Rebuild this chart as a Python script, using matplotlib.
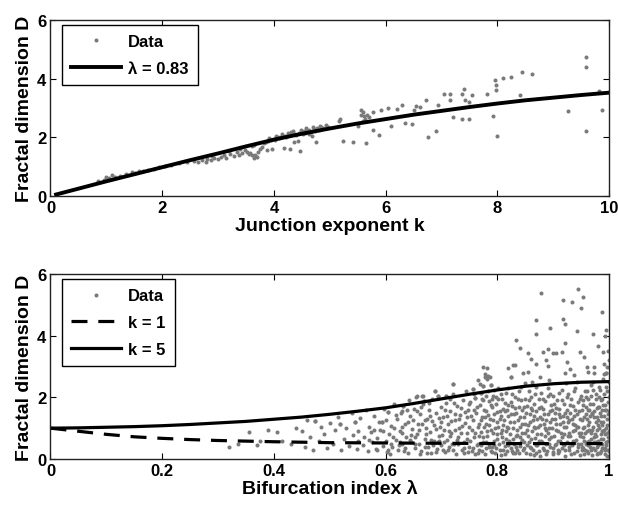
import numpy as np
import matplotlib
matplotlib.use("Agg")
import matplotlib.pyplot as plt

plt.rcParams['font.family'] = ['Liberation Sans', 'DejaVu Sans']
plt.rcParams['font.weight'] = 'bold'

# ---------------- top panel data ----------------
top_points = [
    (0.85, 0.5), (0.95, 0.56), (1.0, 0.64), (1.05, 0.6), (1.1, 0.72), (1.15, 0.66), (1.25, 0.68),
    (1.35, 0.74), (1.46, 0.81), (1.52, 0.78), (1.58, 0.86), (1.65, 0.84), (1.75, 0.88), (1.85, 0.93),
    (1.95, 0.98), (2.05, 1.02), (2.15, 1.06), (2.3, 1.12), (2.45, 1.16),
    (2.57, 1.2), (2.65, 1.15), (2.72, 1.24), (2.78, 1.17), (2.81, 1.26), (2.88, 1.21), (2.93, 1.28),
    (3.0, 1.25), (3.05, 1.33), (3.1, 1.38), (3.15, 1.3), (3.22, 1.43), (3.28, 1.36), (3.34, 1.49),
    (3.38, 1.41), (3.43, 1.47), (3.48, 1.55), (3.52, 1.51), (3.55, 1.42), (3.58, 1.47), (3.61, 1.38),
    (3.64, 1.28), (3.67, 1.4), (3.7, 1.32), (3.72, 1.5), (3.75, 1.6), (3.78, 1.68), (2.9, 1.36),
    (3.2, 1.52), (3.4, 1.6), (3.6, 1.7), (3.65, 1.75),
    (3.82, 1.8), (3.85, 1.85), (3.88, 1.55), (3.9, 1.88), (3.95, 1.9), (3.97, 1.61), (4.0, 1.95),
    (4.02, 1.92), (4.05, 1.98), (4.08, 2.0), (4.1, 1.96), (4.12, 2.02), (4.15, 2.04), (4.18, 1.63),
    (4.2, 2.06), (4.22, 2.02), (4.25, 2.08), (4.29, 1.59), (4.3, 2.17), (4.32, 2.1), (4.36, 1.83),
    (4.38, 2.12), (4.4, 2.08), (4.43, 1.87), (4.45, 2.15), (4.47, 1.53), (4.5, 2.18), (4.54, 2.23),
    (4.56, 2.15), (4.6, 2.2), (4.63, 2.25), (4.66, 2.18), (4.68, 2.03), (4.72, 2.28), (4.75, 1.83),
    (4.78, 2.3), (4.8, 2.24), (4.84, 2.34), (4.88, 2.3), (4.93, 2.42), (4.97, 2.36),
    (3.92, 1.97), (4.03, 2.05), (4.14, 2.1), (4.26, 2.15), (4.35, 2.2), (4.48, 2.25), (4.58, 2.3),
    (4.7, 2.35), (4.82, 2.38), (4.52, 2.1), (4.62, 2.12), (4.74, 2.2),
    (5.17, 2.57), (5.19, 2.63), (5.24, 1.87), (5.42, 1.83), (5.5, 2.4), (5.56, 2.76), (5.6, 2.55),
    (5.63, 2.64), (5.65, 1.81), (5.67, 2.76), (5.56, 2.93), (5.7, 2.7), (5.77, 2.87), (5.77, 2.26),
    (5.6, 2.85), (5.62, 2.72), (5.88, 2.09), (5.91, 2.93), (6.05, 2.99), (6.09, 2.37), (6.2, 2.95),
    (6.3, 3.1), (6.34, 2.5), (6.48, 2.46), (6.51, 2.93), (6.55, 3.06), (6.62, 3.04), (6.72, 3.27),
    (6.76, 2.01), (6.9, 2.2), (6.94, 3.1), (7.04, 3.49), (7.15, 3.49), (7.15, 3.27), (7.21, 2.7),
    (7.36, 3.49), (7.36, 2.64), (7.4, 3.66), (7.43, 3.27), (7.49, 2.64), (7.54, 3.44), (7.5, 3.2),
    (7.82, 3.46), (7.93, 2.72), (7.96, 3.94), (7.98, 3.78), (7.98, 3.61), (8.0, 2.06), (8.1, 4.03),
    (8.24, 4.06), (8.41, 3.44), (8.45, 4.22), (8.63, 4.15), (9.27, 2.9), (9.58, 4.75), (9.58, 4.39),
    (9.58, 2.2), (9.83, 3.58), (9.87, 2.92),
]
top_k = [p[0] for p in top_points]
top_D = [p[1] for p in top_points]

curve_k = [0.1, 0.5, 1, 1.5, 2, 2.5, 3, 3.5, 4, 4.5, 5, 5.5, 6, 6.5, 7, 7.5, 8, 8.5, 9, 9.5, 10]
curve_D_lam083 = [0.05, 0.25, 0.5, 0.74, 0.98, 1.22, 1.45, 1.69, 1.92, 2.12, 2.3, 2.47, 2.62,
                  2.77, 2.9, 3.03, 3.15, 3.26, 3.35, 3.44, 3.52]

# ---------------- bottom panel data ----------------
bottom_points = [
    (0.32, 0.38), (0.335, 0.48), (0.355, 0.86), (0.37, 0.44), (0.375, 0.58), (0.39, 0.95),
    (0.405, 0.86), (0.415, 0.6), (0.43, 0.5), (0.44, 1.02),
    (0.45, 0.92), (0.455, 0.4), (0.46, 1.28), (0.465, 0.72), (0.47, 0.3), (0.474, 1.22), (0.48, 0.58),
    (0.485, 1.05), (0.49, 0.82), (0.495, 0.36), (0.50, 1.18), (0.505, 0.48), (0.51, 0.95), (0.515, 1.36),
    (0.52, 0.28), (0.518, 1.14), (0.525, 0.66), (0.53, 1.02), (0.535, 0.42), (0.54, 1.48), (0.542, 0.78),
    (0.545, 1.19), (0.548, 0.32), (0.55, 0.9), (0.55, 0.58),
    (0.555, 1.32), (0.56, 0.45), (0.562, 0.72), (0.565, 1.58), (0.568, 0.25), (0.57, 1.05), (0.573, 0.88),
    (0.576, 0.55), (0.58, 1.4), (0.582, 0.34), (0.585, 0.68), (0.588, 1.2), (0.59, 0.95), (0.593, 1.19),
    (0.595, 0.42), (0.598, 1.62), (0.60, 0.58), (0.602, 0.22), (0.605, 1.51), (0.607, 0.8), (0.61, 1.08),
    (0.612, 0.38), (0.615, 1.78), (0.618, 0.62), (0.62, 1.3), (0.622, 0.28), (0.625, 0.92), (0.628, 1.48),
    (0.63, 0.48), (0.632, 1.73), (0.635, 1.12), (0.637, 0.7), (0.64, 0.2), (0.642, 1.9), (0.644, 1.38),
    (0.646, 0.55), (0.648, 0.98), (0.65, 1.62), (0.585, 0.3), (0.595, 0.9), (0.605, 0.3), (0.615, 1.0),
    (0.625, 0.55), (0.635, 0.35), (0.645, 0.78), (0.57, 0.62), (0.58, 0.95), (0.61, 0.5), (0.63, 0.85),
    (0.64, 1.2),
    (0.652, 0.35), (0.655, 2.0), (0.656, 0.82), (0.658, 1.15), (0.66, 0.5), (0.662, 1.45), (0.664, 0.25),
    (0.666, 2.05), (0.667, 1.78), (0.669, 1.89), (0.67, 0.65), (0.672, 1.02), (0.674, 1.3), (0.676, 0.4),
    (0.678, 1.6), (0.68, 0.88), (0.682, 0.18), (0.684, 1.22), (0.686, 0.58), (0.688, 2.22), (0.69, 1.48),
    (0.692, 0.32), (0.694, 2.05), (0.695, 0.75), (0.697, 1.05), (0.699, 1.7), (0.70, 0.45), (0.702, 1.35),
    (0.704, 0.95), (0.706, 0.22), (0.708, 1.82), (0.709, 2.05), (0.71, 0.62), (0.712, 1.15), (0.714, 0.38),
    (0.716, 1.55), (0.718, 0.85), (0.72, 2.1), (0.721, 2.43), (0.722, 0.5), (0.724, 1.28), (0.726, 0.15),
    (0.728, 1.72), (0.73, 0.7), (0.732, 1.0), (0.734, 1.42), (0.736, 0.3), (0.738, 1.9), (0.74, 0.55),
    (0.742, 1.18), (0.744, 2.2), (0.746, 0.85), (0.748, 1.6), (0.75, 0.4), (0.66, 0.95), (0.67, 1.25),
    (0.675, 0.2), (0.685, 0.45), (0.69, 0.98), (0.70, 1.2), (0.705, 0.55), (0.71, 1.4), (0.715, 0.75),
    (0.72, 0.3), (0.725, 0.95), (0.73, 0.5), (0.735, 1.65), (0.74, 0.2), (0.745, 1.35), (0.75, 1.05),
    (0.68, 1.4), (0.695, 0.6), (0.715, 1.95), (0.725, 1.45), (0.735, 0.85), (0.745, 0.65),
    (0.601, 1.25), (0.608, 0.15), (0.613, 0.72), (0.619, 1.42), (0.624, 0.45), (0.629, 1.05),
    (0.633, 0.25), (0.638, 1.58), (0.643, 0.62), (0.649, 1.28), (0.653, 0.72), (0.657, 1.55),
    (0.661, 0.15), (0.665, 1.12), (0.671, 0.38), (0.677, 1.82), (0.681, 0.62), (0.687, 1.1),
    (0.691, 0.22), (0.696, 1.32), (0.701, 0.78), (0.707, 1.58), (0.711, 0.28), (0.717, 1.22),
    (0.719, 0.48), (0.723, 1.82), (0.727, 0.62), (0.731, 1.3), (0.737, 1.08), (0.741, 0.35),
    (0.743, 1.52), (0.747, 0.22), (0.749, 1.78), (0.653, 0.48), (0.663, 1.7), (0.673, 0.82),
    (0.683, 1.95), (0.693, 0.55), (0.703, 0.3), (0.713, 0.9),
    (0.752, 1.85), (0.754, 0.25), (0.756, 1.25), (0.757, 2.27), (0.758, 0.7), (0.76, 1.97), (0.762, 1.5),
    (0.763, 0.45), (0.765, 1.05), (0.766, 2.55), (0.768, 0.3), (0.769, 1.75), (0.77, 2.14), (0.771, 0.88),
    (0.772, 1.35), (0.774, 2.38), (0.775, 0.55), (0.776, 1.6), (0.778, 0.15), (0.779, 1.15), (0.78, 2.05),
    (0.781, 0.75), (0.782, 2.6), (0.784, 1.42), (0.785, 0.38), (0.786, 1.88), (0.788, 2.4), (0.789, 0.95),
    (0.79, 0.22), (0.791, 1.68), (0.792, 1.25), (0.794, 0.6), (0.795, 2.25), (0.796, 1.02), (0.798, 0.35),
    (0.799, 1.52), (0.80, 0.82), (0.801, 1.95), (0.803, 0.5), (0.804, 1.3), (0.806, 0.12), (0.807, 2.1),
    (0.808, 0.7), (0.81, 1.62), (0.811, 1.1), (0.813, 0.42), (0.814, 1.82), (0.816, 0.9), (0.817, 0.25),
    (0.819, 1.4), (0.82, 2.3), (0.821, 0.6), (0.823, 1.2), (0.824, 2.65), (0.825, 0.35), (0.827, 1.72),
    (0.828, 1.0), (0.83, 0.5), (0.831, 2.0), (0.832, 0.18), (0.834, 1.5), (0.835, 0.78), (0.837, 1.25),
    (0.838, 2.2), (0.84, 0.42), (0.841, 1.05), (0.842, 1.9), (0.844, 0.62), (0.845, 1.6), (0.846, 0.28),
    (0.848, 1.35), (0.849, 2.45), (0.85, 0.85),
    (0.755, 0.95), (0.765, 0.5), (0.775, 1.9), (0.785, 1.1), (0.795, 0.45), (0.805, 1.55), (0.815, 0.65),
    (0.825, 1.85), (0.835, 0.3), (0.845, 1.15), (0.76, 0.15), (0.77, 1.25), (0.78, 0.55), (0.79, 1.95),
    (0.80, 1.2), (0.81, 0.3), (0.82, 1.0), (0.83, 1.45), (0.84, 0.7), (0.85, 1.95), (0.758, 1.6),
    (0.768, 0.75), (0.778, 1.35), (0.788, 0.25), (0.798, 2.0), (0.808, 0.95), (0.818, 1.6), (0.828, 0.2),
    (0.838, 1.7), (0.848, 0.55),
    (0.751, 0.6), (0.753, 1.4), (0.756, 0.35), (0.759, 2.1), (0.761, 0.85), (0.764, 1.7), (0.766, 0.2),
    (0.767, 1.15), (0.77, 0.45), (0.773, 1.95), (0.774, 0.7), (0.777, 1.05), (0.779, 0.35), (0.78, 1.55),
    (0.782, 0.9), (0.783, 2.2), (0.786, 0.5), (0.787, 1.3), (0.789, 1.75), (0.791, 0.4), (0.793, 0.85),
    (0.794, 1.45), (0.796, 0.18), (0.797, 1.8), (0.799, 0.65), (0.801, 1.05), (0.802, 2.3), (0.804, 0.3),
    (0.806, 1.4), (0.807, 0.85), (0.809, 1.95), (0.81, 0.55), (0.812, 1.25), (0.814, 0.15), (0.815, 2.15),
    (0.817, 1.05), (0.819, 0.45), (0.82, 1.75), (0.822, 0.8), (0.824, 1.45), (0.826, 0.25), (0.827, 2.1),
    (0.829, 0.65), (0.83, 1.2), (0.832, 1.65), (0.834, 0.4), (0.836, 0.95), (0.837, 1.95), (0.839, 0.2),
    (0.84, 1.35), (0.842, 0.55), (0.843, 2.35), (0.845, 0.85), (0.847, 1.7), (0.848, 0.35), (0.85, 1.15),
    (0.773, 0.25), (0.793, 2.05), (0.813, 1.55), (0.833, 0.75),
    (0.852, 0.2), (0.853, 1.72), (0.855, 1.1), (0.856, 2.2), (0.857, 0.55), (0.859, 1.45), (0.86, 0.35),
    (0.861, 2.0), (0.862, 0.9), (0.864, 1.25), (0.865, 0.12), (0.866, 1.8), (0.868, 0.68), (0.869, 1.55),
    (0.87, 2.35), (0.871, 0.45), (0.873, 1.05), (0.874, 1.95), (0.875, 0.25), (0.877, 1.35), (0.878, 0.8),
    (0.879, 2.15), (0.88, 0.55), (0.882, 1.62), (0.883, 1.15), (0.884, 0.3), (0.886, 1.88), (0.887, 0.95),
    (0.888, 0.15), (0.89, 1.45), (0.891, 2.3), (0.892, 0.65), (0.894, 1.2), (0.895, 0.4), (0.896, 1.75),
    (0.898, 1.02), (0.899, 0.22), (0.90, 2.05), (0.901, 0.75), (0.903, 1.5), (0.904, 1.3), (0.905, 0.5),
    (0.907, 1.92), (0.908, 0.9), (0.909, 0.18), (0.911, 1.62), (0.912, 1.12), (0.913, 0.6), (0.915, 2.25),
    (0.916, 0.35), (0.917, 1.4), (0.919, 0.82), (0.92, 1.8), (0.921, 0.1), (0.923, 1.05), (0.924, 0.55),
    (0.925, 1.6), (0.927, 2.1), (0.928, 0.3), (0.929, 1.25), (0.931, 0.75), (0.932, 1.95), (0.933, 0.45),
    (0.935, 1.15), (0.936, 1.72), (0.937, 0.2), (0.939, 0.95), (0.94, 2.3), (0.941, 0.62), (0.943, 1.45),
    (0.944, 0.38), (0.945, 1.85), (0.947, 0.85), (0.948, 1.3), (0.949, 0.12), (0.95, 2.05),
    (0.855, 0.75), (0.865, 1.4), (0.875, 0.6), (0.885, 1.0), (0.895, 2.1), (0.905, 1.15), (0.915, 0.7),
    (0.925, 1.35), (0.935, 0.6), (0.945, 1.05), (0.86, 1.65), (0.87, 0.2), (0.88, 1.3), (0.89, 0.85),
    (0.90, 0.35), (0.91, 1.45), (0.92, 0.45), (0.93, 1.5), (0.94, 1.1), (0.95, 0.5), (0.858, 0.4),
    (0.868, 1.0), (0.878, 1.7), (0.888, 0.5), (0.898, 1.6), (0.908, 0.3), (0.918, 1.2), (0.928, 0.85),
    (0.938, 1.4), (0.948, 0.75), (0.863, 2.5), (0.893, 2.55), (0.923, 2.45), (0.943, 2.5),
    (0.851, 1.5), (0.853, 0.45), (0.854, 0.95), (0.856, 1.9), (0.858, 0.15), (0.859, 1.2), (0.861, 0.65),
    (0.862, 1.6), (0.864, 0.3), (0.866, 1.05), (0.867, 2.1), (0.869, 0.45), (0.871, 1.3), (0.872, 0.8),
    (0.874, 1.65), (0.876, 0.1), (0.877, 1.1), (0.879, 0.6), (0.881, 1.95), (0.882, 0.35), (0.884, 1.45),
    (0.885, 0.75), (0.887, 1.25), (0.889, 0.25), (0.89, 2.05), (0.892, 1.0), (0.893, 0.5), (0.895, 1.55),
    (0.897, 0.7), (0.898, 1.3), (0.9, 0.15), (0.902, 1.8), (0.903, 0.45), (0.905, 0.95), (0.906, 1.65),
    (0.908, 0.6), (0.91, 2.15), (0.911, 0.25), (0.913, 1.35), (0.914, 0.85), (0.916, 1.9), (0.918, 0.5),
    (0.919, 1.05), (0.921, 1.5), (0.922, 0.3), (0.924, 2.0), (0.926, 0.75), (0.927, 1.2), (0.929, 0.4),
    (0.93, 1.75), (0.932, 0.15), (0.934, 1.3), (0.935, 0.9), (0.937, 2.2), (0.938, 0.55), (0.94, 1.6),
    (0.942, 0.25), (0.943, 1.05), (0.945, 0.5), (0.946, 1.55), (0.948, 1.95), (0.95, 0.85),
    (0.951, 0.3), (0.952, 1.25), (0.953, 0.7), (0.954, 1.75), (0.955, 0.15), (0.956, 1.05), (0.957, 2.2),
    (0.958, 0.5), (0.959, 1.45), (0.96, 0.9), (0.961, 0.25), (0.962, 1.6), (0.963, 1.95), (0.964, 0.6),
    (0.965, 1.2), (0.966, 0.4), (0.967, 2.4), (0.968, 0.85), (0.969, 1.5), (0.97, 0.12), (0.971, 1.05),
    (0.972, 1.8), (0.973, 0.55), (0.974, 1.35), (0.975, 0.3), (0.976, 2.1), (0.977, 0.75), (0.978, 1.65),
    (0.979, 0.95), (0.98, 0.2), (0.981, 1.25), (0.982, 2.35), (0.983, 0.5), (0.984, 1.5), (0.985, 0.8),
    (0.986, 1.9), (0.987, 0.35), (0.988, 1.1), (0.989, 2.6), (0.99, 0.65), (0.991, 1.4), (0.992, 0.15),
    (0.993, 1.75), (0.994, 1.0), (0.995, 0.45), (0.996, 2.2), (0.997, 1.3), (0.998, 0.6), (0.999, 1.85),
    (1.0, 0.25), (1.0, 0.9), (1.0, 1.55), (1.0, 2.0), (1.0, 3.2), (1.0, 2.5), (0.998, 3.5), (0.996, 3.0),
    (0.994, 2.8), (0.992, 0.3), (0.99, 1.2), (0.988, 0.5), (0.986, 1.4), (0.984, 0.2), (0.982, 1.0),
    (0.98, 1.7), (0.978, 0.4), (0.976, 1.2), (0.974, 0.7), (0.972, 2.5), (0.97, 1.45), (0.968, 0.3),
    (0.966, 1.8), (0.964, 0.95), (0.962, 0.45), (0.96, 1.3), (0.958, 2.0), (0.956, 0.6), (0.954, 1.0),
    (0.952, 0.4), (0.997, 0.1), (0.999, 0.7), (0.995, 1.6), (0.993, 0.8), (0.991, 2.1), (0.989, 0.9),
    (0.987, 1.6), (0.985, 0.25), (0.983, 2.0), (0.981, 0.6),
    (0.951, 1.6), (0.953, 0.35), (0.955, 1.35), (0.957, 0.85), (0.958, 1.7), (0.96, 0.55), (0.962, 1.1),
    (0.963, 0.2), (0.965, 1.6), (0.967, 0.65), (0.968, 2.05), (0.97, 0.95), (0.972, 0.35), (0.973, 1.55),
    (0.975, 0.8), (0.977, 1.95), (0.978, 0.15), (0.98, 1.1), (0.981, 0.45), (0.983, 1.7), (0.985, 1.2),
    (0.986, 0.65), (0.988, 1.95), (0.989, 0.35), (0.991, 0.95), (0.992, 1.6), (0.994, 0.55), (0.995, 2.35),
    (0.997, 0.85), (0.998, 1.45), (0.999, 0.3), (0.996, 1.1), (0.993, 0.35), (0.99, 1.75), (0.987, 0.9),
    (0.984, 2.25), (0.979, 1.35), (0.976, 0.55), (0.971, 2.25), (0.966, 1.4), (0.961, 2.2), (0.957, 0.3),
    (0.953, 1.9),
    (0.878, 5.38), (0.945, 5.51), (0.954, 5.24), (0.917, 5.16), (0.933, 5.10), (0.950, 4.89),
    (0.988, 4.76), (0.869, 4.52), (0.918, 4.54), (0.921, 4.38), (0.894, 4.25), (0.869, 4.04),
    (0.942, 4.14), (0.972, 4.05), (0.995, 4.19), (0.992, 3.98), (0.834, 3.87), (0.921, 3.75),
    (0.981, 3.68), (0.841, 3.59), (0.891, 3.57), (0.855, 3.44), (0.882, 3.46), (0.899, 3.43),
    (0.906, 3.43), (0.915, 3.46), (0.948, 3.48), (0.956, 3.30), (0.989, 3.48), (0.860, 3.24),
    (0.888, 3.22), (0.869, 3.08), (0.891, 3.03), (0.924, 3.16), (0.960, 2.97), (0.973, 2.97),
    (0.991, 3.08), (0.774, 2.97), (0.781, 2.94), (0.820, 2.94), (0.829, 3.05), (0.831, 3.05),
    (0.778, 2.76), (0.784, 2.70), (0.778, 2.65), (0.787, 2.65), (0.824, 2.65), (0.846, 2.79),
    (0.855, 2.83), (0.877, 2.65), (0.921, 2.79), (0.930, 2.92), (0.937, 2.72), (0.962, 2.81),
    (0.973, 2.79), (0.991, 2.76), (0.995, 2.79), (0.721, 2.43), (0.769, 2.43), (0.774, 2.38),
    (0.788, 2.40), (0.757, 2.27), (0.770, 2.14), (0.760, 1.97), (0.709, 2.05), (0.688, 2.22),
    (0.694, 2.05), (0.656, 2.03), (0.667, 2.05), (0.669, 1.89), (0.632, 1.73), (0.629, 1.57),
    (0.605, 1.51), (0.593, 1.19), (0.545, 1.19), (0.518, 1.14), (0.474, 1.22),
]
bot_lam = [p[0] for p in bottom_points]
bot_D = [p[1] for p in bottom_points]

curve_lam_k5 = [0, 0.05, 0.1, 0.15, 0.2, 0.25, 0.3, 0.35, 0.4, 0.45, 0.5, 0.55, 0.6, 0.65,
                0.7, 0.75, 0.8, 0.85, 0.9, 0.95, 1.0]
curve_D_k5 = [1.0, 1.01, 1.03, 1.05, 1.08, 1.12, 1.17, 1.22, 1.29, 1.36, 1.45, 1.55, 1.66, 1.8,
              1.95, 2.1, 2.24, 2.36, 2.44, 2.49, 2.51]
curve_lam_k1 = [0, 0.025, 0.05, 0.075, 0.1, 0.15, 0.2, 0.25, 0.3, 0.4, 0.5, 0.6, 0.7, 0.8, 0.9, 1.0]
curve_D_k1 = [1.0, 0.95, 0.9, 0.85, 0.8, 0.72, 0.67, 0.63, 0.6, 0.56, 0.53, 0.52, 0.51, 0.5, 0.5, 0.5]

top_xticks = [0, 2, 4, 6, 8, 10]
bot_xticks = [0, 0.2, 0.4, 0.6, 0.8, 1]
bot_xticklabels = ['0', '0.2', '0.4', '0.6', '0.8', '1']
yticks = [0, 2, 4, 6]

# ---------------- figure ----------------
fig = plt.figure(figsize=(6.18, 5.06), dpi=100)
ax1 = fig.add_axes([0.0817, 0.6107, 0.9037, 0.348])
ax2 = fig.add_axes([0.0817, 0.0909, 0.9037, 0.3656])

dot_color = '#7a7a7a'
tick_fs = 12
label_fs = 14
msize = 2.9

ax1.plot(top_k, top_D, 'o', ls='none', color=dot_color, markersize=msize, markeredgewidth=0, label='Data')
ax1.plot(curve_k, curve_D_lam083, '-', color='black', lw=2.8, label='λ = 0.83')
ax1.set_xlim(0, 10)
ax1.set_ylim(0, 6)
ax1.set_xticks(top_xticks)
ax1.set_yticks(yticks)
ax1.set_xlabel('Junction exponent k', fontsize=label_fs, fontweight='bold', labelpad=1)
ax1.set_ylabel('Fractal dimension D', fontsize=label_fs, fontweight='bold', labelpad=3)

ax2.plot(bot_lam, bot_D, 'o', ls='none', color=dot_color, markersize=msize, markeredgewidth=0, label='Data')
ax2.plot(curve_lam_k1, curve_D_k1, color='black', lw=2.3, ls=(0, (5, 3.4)), label='k = 1')
ax2.plot(curve_lam_k5, curve_D_k5, '-', color='black', lw=2.3, label='k = 5')
ax2.set_xlim(0, 1)
ax2.set_ylim(0, 6)
ax2.set_xticks(bot_xticks)
ax2.set_xticklabels(bot_xticklabels)
ax2.set_yticks(yticks)
ax2.set_xlabel('Bifurcation index λ', fontsize=label_fs, fontweight='bold', labelpad=1)
ax2.set_ylabel('Fractal dimension D', fontsize=label_fs, fontweight='bold', labelpad=3)

for ax in (ax1, ax2):
    ax.tick_params(direction='in', top=True, right=True, length=4, width=0.8,
                   labelsize=tick_fs, pad=3)
    for lab in ax.get_xticklabels() + ax.get_yticklabels():
        lab.set_fontweight('bold')
    for sp in ax.spines.values():
        sp.set_linewidth(1.0)
        sp.set_color('#222222')
    leg = ax.legend(loc='upper left', bbox_to_anchor=(0.021, 0.972), numpoints=1,
                    handlelength=3.0, handletextpad=0.4, borderpad=0.55, labelspacing=0.7,
                    fancybox=False, framealpha=1, edgecolor='black', borderaxespad=0,
                    prop={'weight': 'bold', 'size': 12})
    leg.get_frame().set_linewidth(1.0)

fig.savefig('out.png', dpi=100, facecolor='white')
